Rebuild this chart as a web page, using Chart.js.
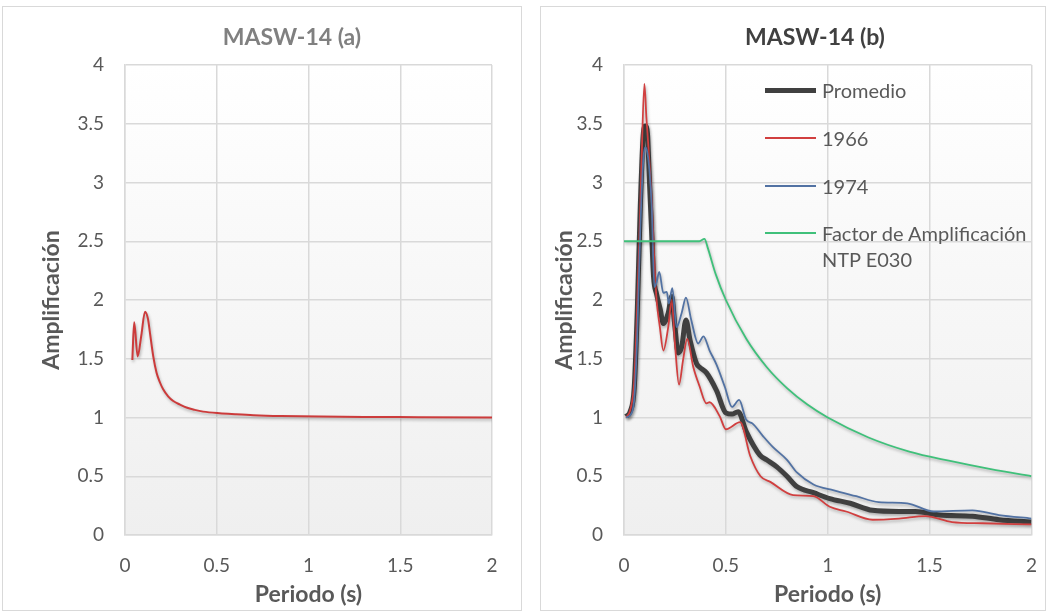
<!DOCTYPE html>
<html>
<head>
<meta charset="utf-8">
<script src="https://cdn.jsdelivr.net/npm/chart.js@4.4.1/dist/chart.umd.min.js"></script>
<style>
  body { margin: 0; background: #fff; width: 1048px; height: 612px; overflow: hidden; position: relative; font-family: Lato, sans-serif; }
  .panel { position: absolute; border: 1px solid #d9d9d9; background: #fff; }
  .panel canvas { display: block; }
  #legendB { position: absolute; left: 765px; top: 0; color: #595959; font-size: 20px; }
  .item { position: absolute; white-space: nowrap; }
  .swatch { position: absolute; left: 0; width: 51px; }
  .label { position: absolute; left: 57px; line-height: 26px; }
</style>
</head>
<body>
<div class="panel" style="left:2px;top:6px;width:518px;height:603px"><canvas id="chartA" width="518" height="603"></canvas></div>
<div class="panel" style="left:540px;top:6px;width:504px;height:603px"><canvas id="chartB" width="504" height="603"></canvas></div>
<div id="legendB"></div>
<script>
// axis ticks
var periodTicks = [0, 0.5, 1, 1.5, 2];
var ampTicks = [0, 0.5, 1, 1.5, 2, 2.5, 3, 3.5, 4];

// MASW-14 (a)
var periodA = [0.04, 0.05, 0.069, 0.089, 0.109, 0.125, 0.136, 0.154, 0.172, 0.19, 0.208, 0.235, 0.263, 0.3, 0.335, 0.38, 0.426, 0.516, 0.6, 0.7, 0.85, 1.06, 1.3, 1.6, 2.0];
var ampA = [1.49, 1.81, 1.52, 1.70, 1.90, 1.84, 1.72, 1.52, 1.38, 1.30, 1.24, 1.18, 1.14, 1.11, 1.085, 1.065, 1.05, 1.036, 1.028, 1.02, 1.013, 1.008, 1.005, 1.003, 1.0];

// MASW-14 (b)
var promedioT = [0.01, 0.03, 0.05, 0.065, 0.08, 0.095, 0.105, 0.115, 0.125, 0.135, 0.145, 0.16, 0.178, 0.193, 0.217, 0.234, 0.25, 0.266, 0.283, 0.304, 0.324, 0.356, 0.37, 0.405, 0.454, 0.50, 0.53, 0.56, 0.60, 0.667, 0.70, 0.75, 0.80, 0.85, 0.93, 1.01, 1.11, 1.22, 1.35, 1.43, 1.55, 1.71, 1.84, 2.0];
var promedioA = [1.01, 1.05, 1.25, 1.9, 2.8, 3.42, 3.48, 3.42, 3.0, 2.6, 2.2, 2.05, 1.92, 1.80, 1.89, 2.03, 1.77, 1.55, 1.60, 1.83, 1.66, 1.46, 1.43, 1.38, 1.23, 1.04, 1.03, 1.05, 0.88, 0.68, 0.64, 0.58, 0.50, 0.41, 0.36, 0.31, 0.27, 0.21, 0.20, 0.20, 0.17, 0.16, 0.13, 0.11];

var t1966 = [0.01, 0.03, 0.05, 0.062, 0.075, 0.085, 0.1, 0.11, 0.12, 0.136, 0.15, 0.16, 0.176, 0.193, 0.217, 0.234, 0.25, 0.27, 0.29, 0.31, 0.34, 0.37, 0.405, 0.42, 0.47, 0.50, 0.57, 0.62, 0.67, 0.72, 0.83, 0.93, 1.01, 1.09, 1.22, 1.35, 1.48, 1.61, 1.76, 2.0];
var a1966 = [1.0, 1.06, 1.3, 1.8, 2.5, 3.1, 3.84, 3.55, 3.3, 2.85, 2.3, 2.0, 1.77, 1.57, 1.77, 2.0, 1.63, 1.28, 1.49, 1.67, 1.43, 1.27, 1.12, 1.13, 1.01, 0.90, 0.96, 0.67, 0.50, 0.45, 0.34, 0.33, 0.24, 0.20, 0.13, 0.14, 0.16, 0.11, 0.10, 0.09];

var t1974 = [0.01, 0.03, 0.05, 0.065, 0.08, 0.095, 0.105, 0.115, 0.125, 0.136, 0.149, 0.16, 0.173, 0.193, 0.21, 0.22, 0.237, 0.258, 0.283, 0.304, 0.33, 0.364, 0.39, 0.42, 0.454, 0.495, 0.53, 0.565, 0.60, 0.63, 0.683, 0.73, 0.80, 0.85, 0.93, 1.03, 1.14, 1.25, 1.39, 1.52, 1.71, 1.84, 2.0];
var a1974 = [1.0, 1.02, 1.15, 1.7, 2.6, 3.2, 3.3, 3.25, 3.1, 2.8, 2.11, 2.15, 2.24, 2.06, 2.07, 1.97, 2.10, 1.77, 1.89, 2.02, 1.83, 1.63, 1.69, 1.57, 1.45, 1.26, 1.09, 1.15, 0.98, 0.95, 0.84, 0.75, 0.64, 0.53, 0.43, 0.38, 0.33, 0.28, 0.27, 0.20, 0.21, 0.17, 0.14];

var tNorma = [0, 0.1, 0.2, 0.3, 0.37, 0.395, 0.41, 0.45, 0.5, 0.6, 0.7, 0.8, 0.9, 1.0, 1.2, 1.4, 1.6, 1.8, 2.0];
var aNorma = [2.5, 2.5, 2.5, 2.5, 2.5, 2.52, 2.45, 2.22, 2.0, 1.67, 1.43, 1.25, 1.11, 1.0, 0.83, 0.71, 0.63, 0.56, 0.5];

var FONT = 'Lato';
var TXT = '#595959';
var GRID = '#d9d9d9';

function points(xs, ys) {
    return xs.map(function (x, i) { return {x: x, y: ys[i]}; });
}

//plot area gradient like the excel style
var plotBg = {
    id: 'plotBg',
    beforeDraw: function (chart) {
        var a = chart.chartArea, ctx = chart.ctx;
        var g = ctx.createLinearGradient(0, a.top, 0, a.bottom);
        g.addColorStop(0, '#ffffff');
        g.addColorStop(1, '#efefef');
        ctx.save();
        ctx.fillStyle = g;
        ctx.fillRect(a.left, a.top, a.right - a.left, a.bottom - a.top);
        ctx.restore();
    }
};

//soft shadow under the lines
var lineShadow = {
    id: 'lineShadow',
    beforeDatasetDraw: function (chart) {
        var ctx = chart.ctx;
        ctx.save();
        ctx.shadowColor = 'rgba(0,0,0,0.28)';
        ctx.shadowBlur = 3;
        ctx.shadowOffsetX = 1;
        ctx.shadowOffsetY = 2;
    },
    afterDatasetDraw: function (chart) {
        chart.ctx.restore();
    }
};

//excel doesn't center the title on the canvas, move the title box to its place
var titleShift = {
    id: 'titleShift',
    afterLayout: function (chart, args, opts) {
        var t = chart.titleBlock;
        var dx = opts.center - (t.left + t.right) / 2;
        t.left += dx;
        t.right += dx;
    }
};

function makeOptions(o) {
    return {
        responsive: false,
        animation: false,
        layout: {padding: {left: 0, right: o.padRight, top: 0, bottom: 0}},
        elements: {point: {radius: 0}},
        plugins: {
            legend: {display: false},
            tooltip: {enabled: false},
            titleShift: {center: o.titleCenter},
            title: {
                display: true,
                text: o.title,
                color: o.titleColor,
                font: {family: FONT, size: 23, weight: 'bold'},
                padding: {top: 17.2, bottom: 13.2}
            }
        },
        scales: {
            x: {
                type: 'linear',
                min: 0,
                max: 2,
                afterBuildTicks: function (s) { s.ticks = periodTicks.map(function (v) { return {value: v}; }); },
                afterFit: function (s) { s.height = 75; },
                // small padding keeps the right overhang small, the tall line box pushes labels down
                ticks: {padding: 8, maxRotation: 0, color: TXT, font: {family: FONT, size: 19, lineHeight: 2.46},
                    callback: function (v) { return String(v); }},
                grid: {color: GRID, lineWidth: 1.5, drawTicks: false},
                border: {color: GRID, width: 1.5},
                title: {display: true, text: 'Periodo (s)', color: TXT,
                    font: {family: FONT, size: 23, weight: 'bold'}, padding: {top: 0, bottom: 1.2}}
            },
            y: {
                min: 0,
                max: 4,
                afterBuildTicks: function (s) { s.ticks = ampTicks.map(function (v) { return {value: v}; }); },
                afterFit: function (s) { s.width = o.yWidth; },
                ticks: {padding: 21, color: TXT, font: {family: FONT, size: 19},
                    callback: function (v) { return String(v); }},
                grid: {color: GRID, lineWidth: 1.5, drawTicks: false},
                border: {color: GRID, width: 1.5},
                title: {display: true, text: 'Amplificación', color: TXT,
                    font: {family: FONT, size: 23, weight: 'bold'}, padding: {top: o.yTitlePad, bottom: 0}}
            }
        }
    };
}

new Chart(document.getElementById('chartA'), {
    type: 'line',
    data: {
        datasets: [{
            label: 'MASW-14',
            data: points(periodA, ampA),
            borderColor: '#cc3b3b',
            borderWidth: 2,
            cubicInterpolationMode: 'monotone'
        }]
    },
    options: makeOptions({title: 'MASW-14 (a)', titleColor: '#808080', titleCenter: 289, padRight: 29, yWidth: 122, yTitlePad: 35.2}),
    plugins: [plotBg, lineShadow, titleShift]
});

var datasetsB = [
    {label: 'Promedio', data: points(promedioT, promedioA), borderColor: '#404040', borderWidth: 5, order: 4},
    {label: '1966', data: points(t1966, a1966), borderColor: '#d13f3f', borderWidth: 1.8, order: 3},
    {label: '1974', data: points(t1974, a1974), borderColor: '#5272a3', borderWidth: 1.8, order: 2},
    {label: 'Factor de Amplificación\nNTP E030', data: points(tNorma, aNorma), borderColor: '#3fc07a', borderWidth: 1.8, order: 1}
];
datasetsB.forEach(function (d) { d.cubicInterpolationMode = 'monotone'; });

new Chart(document.getElementById('chartB'), {
    type: 'line',
    data: {datasets: datasetsB},
    options: makeOptions({title: 'MASW-14 (b)', titleColor: '#404040', titleCenter: 274, padRight: 13, yWidth: 83, yTitlePad: 10.2}),
    plugins: [plotBg, lineShadow, titleShift]
});

//legend for chart b, rows placed like the excel legend
var legendRows = [90, 138, 186, 233];
var legend = document.getElementById('legendB');
datasetsB.forEach(function (d, i) {
    var item = document.createElement('div');
    item.className = 'item';
    item.style.top = (legendRows[i] - 13) + 'px';
    var sw = document.createElement('div');
    sw.className = 'swatch';
    sw.style.height = d.borderWidth > 3 ? '5px' : '2px';
    sw.style.top = (13 - (d.borderWidth > 3 ? 2.5 : 1)) + 'px';
    sw.style.background = d.borderColor;
    var lb = document.createElement('div');
    lb.className = 'label';
    lb.innerHTML = d.label.replace('\n', '<br>');
    item.appendChild(sw);
    item.appendChild(lb);
    legend.appendChild(item);
});
</script>
</body>
</html>
